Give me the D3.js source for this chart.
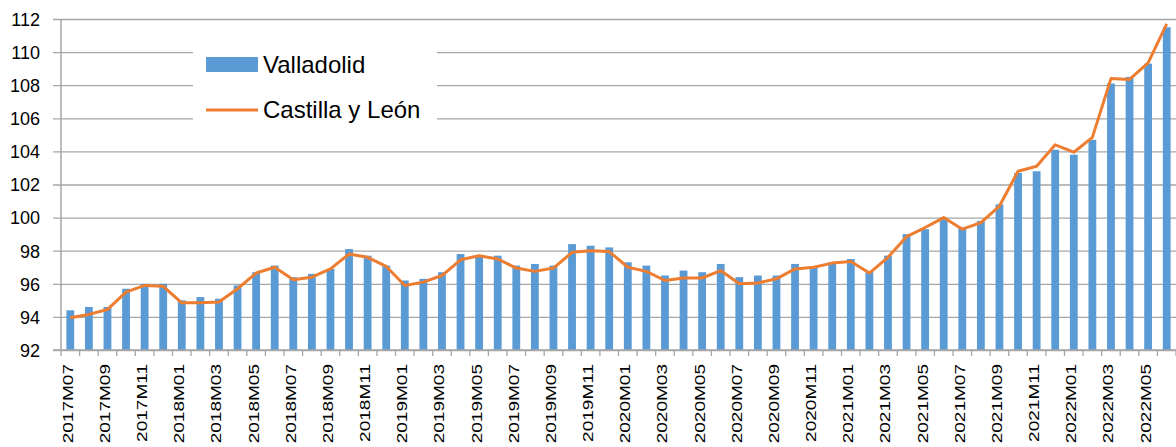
<!DOCTYPE html>
<html>
<head>
<meta charset="utf-8">
<script src="https://cdn.jsdelivr.net/npm/d3@7"></script>
<style>
  body { margin: 0; background: #fff; }
  svg { display: block; font-family: 'Liberation Sans', Arial, sans-serif; }
</style>
</head>
<body>
<div id="chart"></div>
<script>
const months = []
for (let y = 2017; y <= 2022; y++) {
  for (let m = 1; m <= 12; m++) {
    if ((y === 2017 && m < 7) || (y === 2022 && m > 6)) continue
    months.push(`${y}M${String(m).padStart(2, '0')}`)
  }
}

const valladolid = [
  94.4, 94.6, 94.6, 95.7, 96.0, 96.0, 95.0, 95.2, 95.1, 95.9,
  96.7, 97.1, 96.4, 96.6, 96.9, 98.1, 97.7, 97.1, 96.2, 96.3,
  96.7, 97.8, 97.7, 97.7, 97.1, 97.2, 97.1, 98.4, 98.3, 98.2,
  97.3, 97.1, 96.5, 96.8, 96.7, 97.2, 96.4, 96.5, 96.5, 97.2,
  97.0, 97.3, 97.5, 96.7, 97.7, 99.0, 99.3, 100.0, 99.4, 99.8,
  100.8, 102.7, 102.8, 104.1, 103.8, 104.7, 108.1, 108.5, 109.3, 111.5
]

const castilla = [
  93.95, 94.15, 94.45, 95.5, 95.9, 95.85, 94.85, 94.85, 94.9, 95.7,
  96.65, 97.0, 96.25, 96.4, 96.9, 97.8, 97.6, 97.05, 95.9, 96.1,
  96.5, 97.45, 97.7, 97.5, 96.95, 96.75, 96.95, 97.9, 98.0, 97.95,
  97.0, 96.75, 96.2, 96.35, 96.35, 96.8, 96.0, 96.05, 96.3, 96.9,
  97.0, 97.25, 97.35, 96.65, 97.6, 98.85, 99.4, 100.0, 99.3, 99.7,
  100.7, 102.8, 103.1, 104.4, 103.95, 104.85, 108.4, 108.35, 109.35, 111.7
]

const yTicks = [92, 94, 96, 98, 100, 102, 104, 106, 108, 110, 112]

const width = 1176
const height = 447
const margin = { left: 61, right: 0, top: 19, bottom: 97 }

const svg = d3.select('#chart').append('svg')
  .attr('width', width)
  .attr('height', height)

const x = d3.scaleBand()
  .domain(months)
  .range([margin.left, width - margin.right])
  .paddingInner(0.58)
  .paddingOuter(0.29)

const y = d3.scaleLinear()
  .domain([92, 112])
  .range([height - margin.bottom, margin.top])

const gridColor = '#a6a6a6'

// horizontal gridlines + y axis
const yAxis = svg.append('g')
  .attr('transform', `translate(${margin.left},0)`)
  .call(d3.axisLeft(y).tickValues(yTicks).tickSize(-(width - margin.left)).tickPadding(21))

yAxis.select('.domain').remove()
yAxis.selectAll('.tick line')
  .attr('x1', -8)
  .attr('stroke', gridColor)
  .attr('stroke-width', 1.3)
yAxis.selectAll('.tick text')
  .attr('font-size', 18)
  .attr('fill', '#000')
  .attr('dy', '0.35em')

// legend box covers the gridlines
const legend = svg.append('g')
legend.append('rect')
  .attr('x', 193).attr('y', 30)
  .attr('width', 244).attr('height', 112)
  .attr('fill', '#fff')

// bars
svg.append('g')
  .selectAll('rect')
  .data(valladolid)
  .enter().append('rect')
  .attr('x', (d, i) => x(months[i]))
  .attr('y', d => y(d))
  .attr('width', x.bandwidth())
  .attr('height', d => y(92) - y(d))
  .attr('fill', '#5b9bd5')

// line
const line = d3.line()
  .x((d, i) => x(months[i]) + x.bandwidth() / 2)
  .y(d => y(d))

svg.append('path')
  .datum(castilla)
  .attr('d', line)
  .attr('fill', 'none')
  .attr('stroke', '#ed7d31')
  .attr('stroke-width', 3)
  .attr('stroke-linejoin', 'round')

// axis lines
svg.append('line')
  .attr('x1', margin.left).attr('x2', margin.left)
  .attr('y1', y(112)).attr('y2', y(92))
  .attr('stroke', gridColor).attr('stroke-width', 1.5)

svg.append('line')
  .attr('x1', margin.left - 8).attr('x2', width)
  .attr('y1', y(92)).attr('y2', y(92))
  .attr('stroke', gridColor).attr('stroke-width', 1.5)

// category boundary ticks
const step = x.step()
svg.append('g')
  .selectAll('line')
  .data(d3.range(months.length + 1))
  .enter().append('line')
  .attr('x1', i => margin.left + i * step)
  .attr('x2', i => margin.left + i * step)
  .attr('y1', y(92))
  .attr('y2', y(92) + 6)
  .attr('stroke', gridColor)
  .attr('stroke-width', 1.3)

// x labels, every second month
const xAxis = svg.append('g')
  .attr('transform', `translate(0,${y(92)})`)
  .call(d3.axisBottom(x).tickValues(months.filter((d, i) => i % 2 === 0)).tickSize(0))

xAxis.select('.domain').remove()
xAxis.selectAll('.tick text')
  .attr('font-size', 15)
  .attr('fill', '#000')
  .attr('text-anchor', 'end')
  .attr('x', 0)
  .attr('y', 0)
  .attr('dy', '0.36em')
  .attr('transform', 'translate(-3,14) rotate(-90) scale(1.27,1)')

// legend items
legend.append('rect')
  .attr('x', 206).attr('y', 57)
  .attr('width', 52).attr('height', 15)
  .attr('fill', '#5b9bd5')
legend.append('text')
  .attr('x', 263).attr('y', 73)
  .attr('font-size', 24)
  .text('Valladolid')

legend.append('line')
  .attr('x1', 206).attr('x2', 258)
  .attr('y1', 110).attr('y2', 110)
  .attr('stroke', '#ed7d31').attr('stroke-width', 3)
legend.append('text')
  .attr('x', 263).attr('y', 118)
  .attr('font-size', 24)
  .text('Castilla y León')
</script>
</body>
</html>
